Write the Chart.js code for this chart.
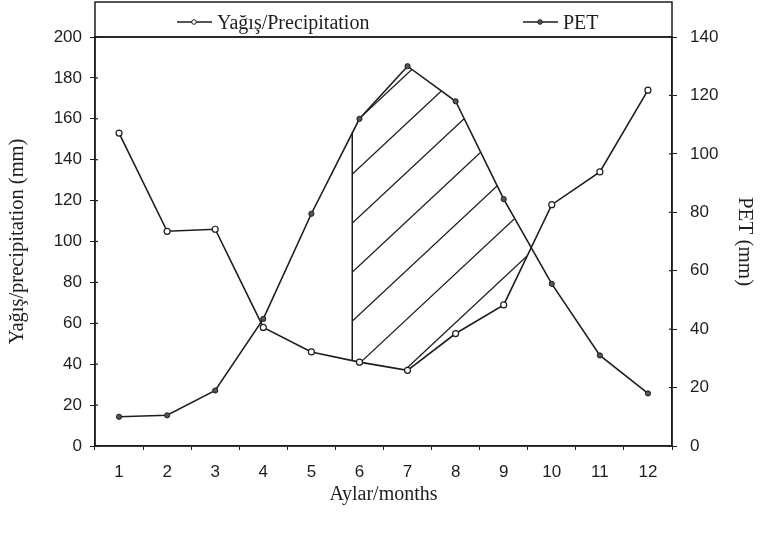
<!DOCTYPE html>
<html>
<head>
<meta charset="utf-8">
<script src="https://cdn.jsdelivr.net/npm/chart.js@4"></script>
<style>
  html, body { margin: 0; padding: 0; background: #fff; }
  #wrap { width: 762px; height: 537px; }
</style>
</head>
<body>
<div id="wrap"><canvas id="chart" width="762" height="537"></canvas></div>
<script>
const months = ["1", "2", "3", "4", "5", "6", "7", "8", "9", "10", "11", "12"];
const precipitation = [153, 105, 106, 58, 46, 41, 37, 55, 69, 118, 134, 174];
const pet = [10, 10.5, 19, 43.5, 79.5, 112, 130, 118, 84.5, 55.5, 31, 18];
const precipTicks = { min: 0, max: 200, step: 20 };
const petTicks = { min: 0, max: 140, step: 20 };
// month where the hatched (PET > precipitation) area starts
const hatchStartMonth = 5.85;

const INK = "#1e1e1e";
const SERIF = "'Liberation Serif', 'DejaVu Serif', serif";
const NARROW = "'Liberation Sans Narrow', 'Liberation Sans', Arial, sans-serif";

function interpY(points, t) {
  const i = Math.max(0, Math.min(Math.floor(t), points.length - 2));
  const f = t - i;
  return points[i].y + (points[i + 1].y - points[i].y) * f;
}

function interpX(points, t) {
  const i = Math.max(0, Math.min(Math.floor(t), points.length - 2));
  const f = t - i;
  return points[i].x + (points[i + 1].x - points[i].x) * f;
}

const hatchPlugin = {
  id: "hatch",
  beforeDatasetsDraw(chart) {
    const prec = chart.getDatasetMeta(0).data;
    const pe = chart.getDatasetMeta(1).data;
    const t0 = hatchStartMonth - 1;
    const x0 = interpX(pe, t0);
    const topY = interpY(pe, t0);
    const botY = interpY(prec, t0);

    const upper = [{ x: x0, y: topY }];
    let i = Math.ceil(t0);
    while (i < pe.length && pe[i].y < prec[i].y) {
      upper.push({ x: pe[i].x, y: pe[i].y });
      i++;
    }
    const dA = pe[i - 1].y - prec[i - 1].y;
    const dB = pe[i].y - prec[i].y;
    const f = dA / (dA - dB);
    const cross = {
      x: pe[i - 1].x + (pe[i].x - pe[i - 1].x) * f,
      y: pe[i - 1].y + (pe[i].y - pe[i - 1].y) * f,
    };
    const lower = [];
    for (let k = i - 1; k >= Math.ceil(t0); k--) {
      lower.push({ x: prec[k].x, y: prec[k].y });
    }
    lower.push({ x: x0, y: botY });
    const poly = upper.concat([cross], lower);

    const { ctx, chartArea } = chart;
    ctx.save();
    ctx.beginPath();
    poly.forEach((p, n) => (n ? ctx.lineTo(p.x, p.y) : ctx.moveTo(p.x, p.y)));
    ctx.closePath();
    ctx.clip();
    ctx.strokeStyle = INK;
    ctx.lineWidth = 1.3;
    const slope = Math.tan((43 * Math.PI) / 180);
    const gap = 49;
    const anchorY = topY + 41;
    for (let k = -15; k <= 15; k++) {
      const y = anchorY + k * gap;
      ctx.beginPath();
      ctx.moveTo(x0 - 5, y + slope * 5);
      ctx.lineTo(chartArea.right, y - slope * (chartArea.right - x0));
      ctx.stroke();
    }
    ctx.restore();

    ctx.save();
    ctx.strokeStyle = INK;
    ctx.lineWidth = 1.5;
    ctx.beginPath();
    ctx.moveTo(x0, topY);
    ctx.lineTo(x0, botY);
    ctx.stroke();
    ctx.restore();
  },
};

const framePlugin = {
  id: "frame",
  afterDraw(chart) {
    const { ctx, chartArea: a } = chart;
    ctx.save();
    ctx.strokeStyle = INK;
    ctx.lineWidth = 1.5;
    ctx.strokeRect(a.left, a.top, a.right - a.left, a.bottom - a.top);
    ctx.strokeRect(a.left, 2, a.right - a.left, a.top - 2);

    // short inner halves of the y ticks, so they cross the axis lines
    ctx.lineWidth = 1.2;
    ["y", "y1"].forEach((id) => {
      const scale = chart.scales[id];
      const x = id === "y" ? a.left : a.right;
      const dir = id === "y" ? 1 : -1;
      scale.ticks.forEach((t, n) => {
        const py = scale.getPixelForTick(n);
        ctx.beginPath();
        ctx.moveTo(x, py);
        ctx.lineTo(x + dir * 3, py);
        ctx.stroke();
      });
    });

    const items = [
      { ds: chart.data.datasets[0], start: a.left + 82 },
      { ds: chart.data.datasets[1], start: a.left + 428 },
    ];
    const ly = 22;
    ctx.font = "20px " + SERIF;
    ctx.textBaseline = "alphabetic";
    items.forEach(({ ds, start }) => {
      ctx.strokeStyle = INK;
      ctx.lineWidth = 1.3;
      ctx.beginPath();
      ctx.moveTo(start, ly);
      ctx.lineTo(start + 35, ly);
      ctx.stroke();
      ctx.beginPath();
      ctx.arc(start + 17, ly, 2.3, 0, Math.PI * 2);
      ctx.fillStyle = ds.pointBackgroundColor;
      ctx.fill();
      ctx.lineWidth = 1;
      ctx.stroke();
      ctx.fillStyle = INK;
      ctx.fillText(ds.label, start + 40, 29);
    });
    ctx.restore();
  },
};

new Chart(document.getElementById("chart"), {
  type: "line",
  data: {
    labels: months,
    datasets: [
      {
        label: "Yağış/Precipitation",
        data: precipitation,
        yAxisID: "y",
        borderColor: INK,
        borderWidth: 1.6,
        pointRadius: 3,
        pointBorderWidth: 1.2,
        pointBackgroundColor: "#ffffff",
        pointBorderColor: INK,
        tension: 0,
      },
      {
        label: "PET",
        data: pet,
        yAxisID: "y1",
        borderColor: INK,
        borderWidth: 1.6,
        pointRadius: 2.6,
        pointBorderWidth: 1,
        pointBackgroundColor: "#555555",
        pointBorderColor: INK,
        tension: 0,
      },
    ],
  },
  options: {
    responsive: false,
    animation: false,
    layout: { padding: { top: 37, bottom: 0, left: 0, right: 0 } },
    plugins: {
      legend: { display: false },
      tooltip: { enabled: false },
    },
    scales: {
      x: {
        offset: true,
        afterFit: (scale) => { scale.height = 91; },
        grid: { offset: true, drawOnChartArea: false, color: INK, tickLength: 4 },
        border: { color: INK, width: 1.5 },
        ticks: { color: INK, font: { family: NARROW, size: 17 }, padding: 12 },
        title: {
          display: true,
          text: "Aylar/months",
          color: INK,
          font: { family: SERIF, size: 20 },
          padding: { top: 0, bottom: 30 },
        },
      },
      y: {
        position: "left",
        min: precipTicks.min,
        max: precipTicks.max,
        afterFit: (scale) => { scale.width = 95; },
        grid: { drawOnChartArea: false, color: INK, tickLength: 5 },
        border: { color: INK, width: 1.5 },
        ticks: { stepSize: precipTicks.step, color: INK, font: { family: NARROW, size: 17 }, padding: 8 },
        title: {
          display: true,
          text: "Yağış/precipitation (mm)",
          color: INK,
          font: { family: SERIF, size: 20.5 },
          padding: { top: 5, bottom: 0 },
        },
      },
      y1: {
        position: "right",
        min: petTicks.min,
        max: petTicks.max,
        afterFit: (scale) => { scale.width = 90; },
        grid: { drawOnChartArea: false, color: INK, tickLength: 5 },
        border: { color: INK, width: 1.5 },
        ticks: { stepSize: petTicks.step, color: INK, font: { family: NARROW, size: 17 }, padding: 13 },
        title: {
          display: true,
          text: "PET (mm)",
          color: INK,
          font: { family: SERIF, size: 21 },
          padding: { top: 5, bottom: 0 },
        },
      },
    },
  },
  plugins: [hatchPlugin, framePlugin],
});
</script>
</body>
</html>
